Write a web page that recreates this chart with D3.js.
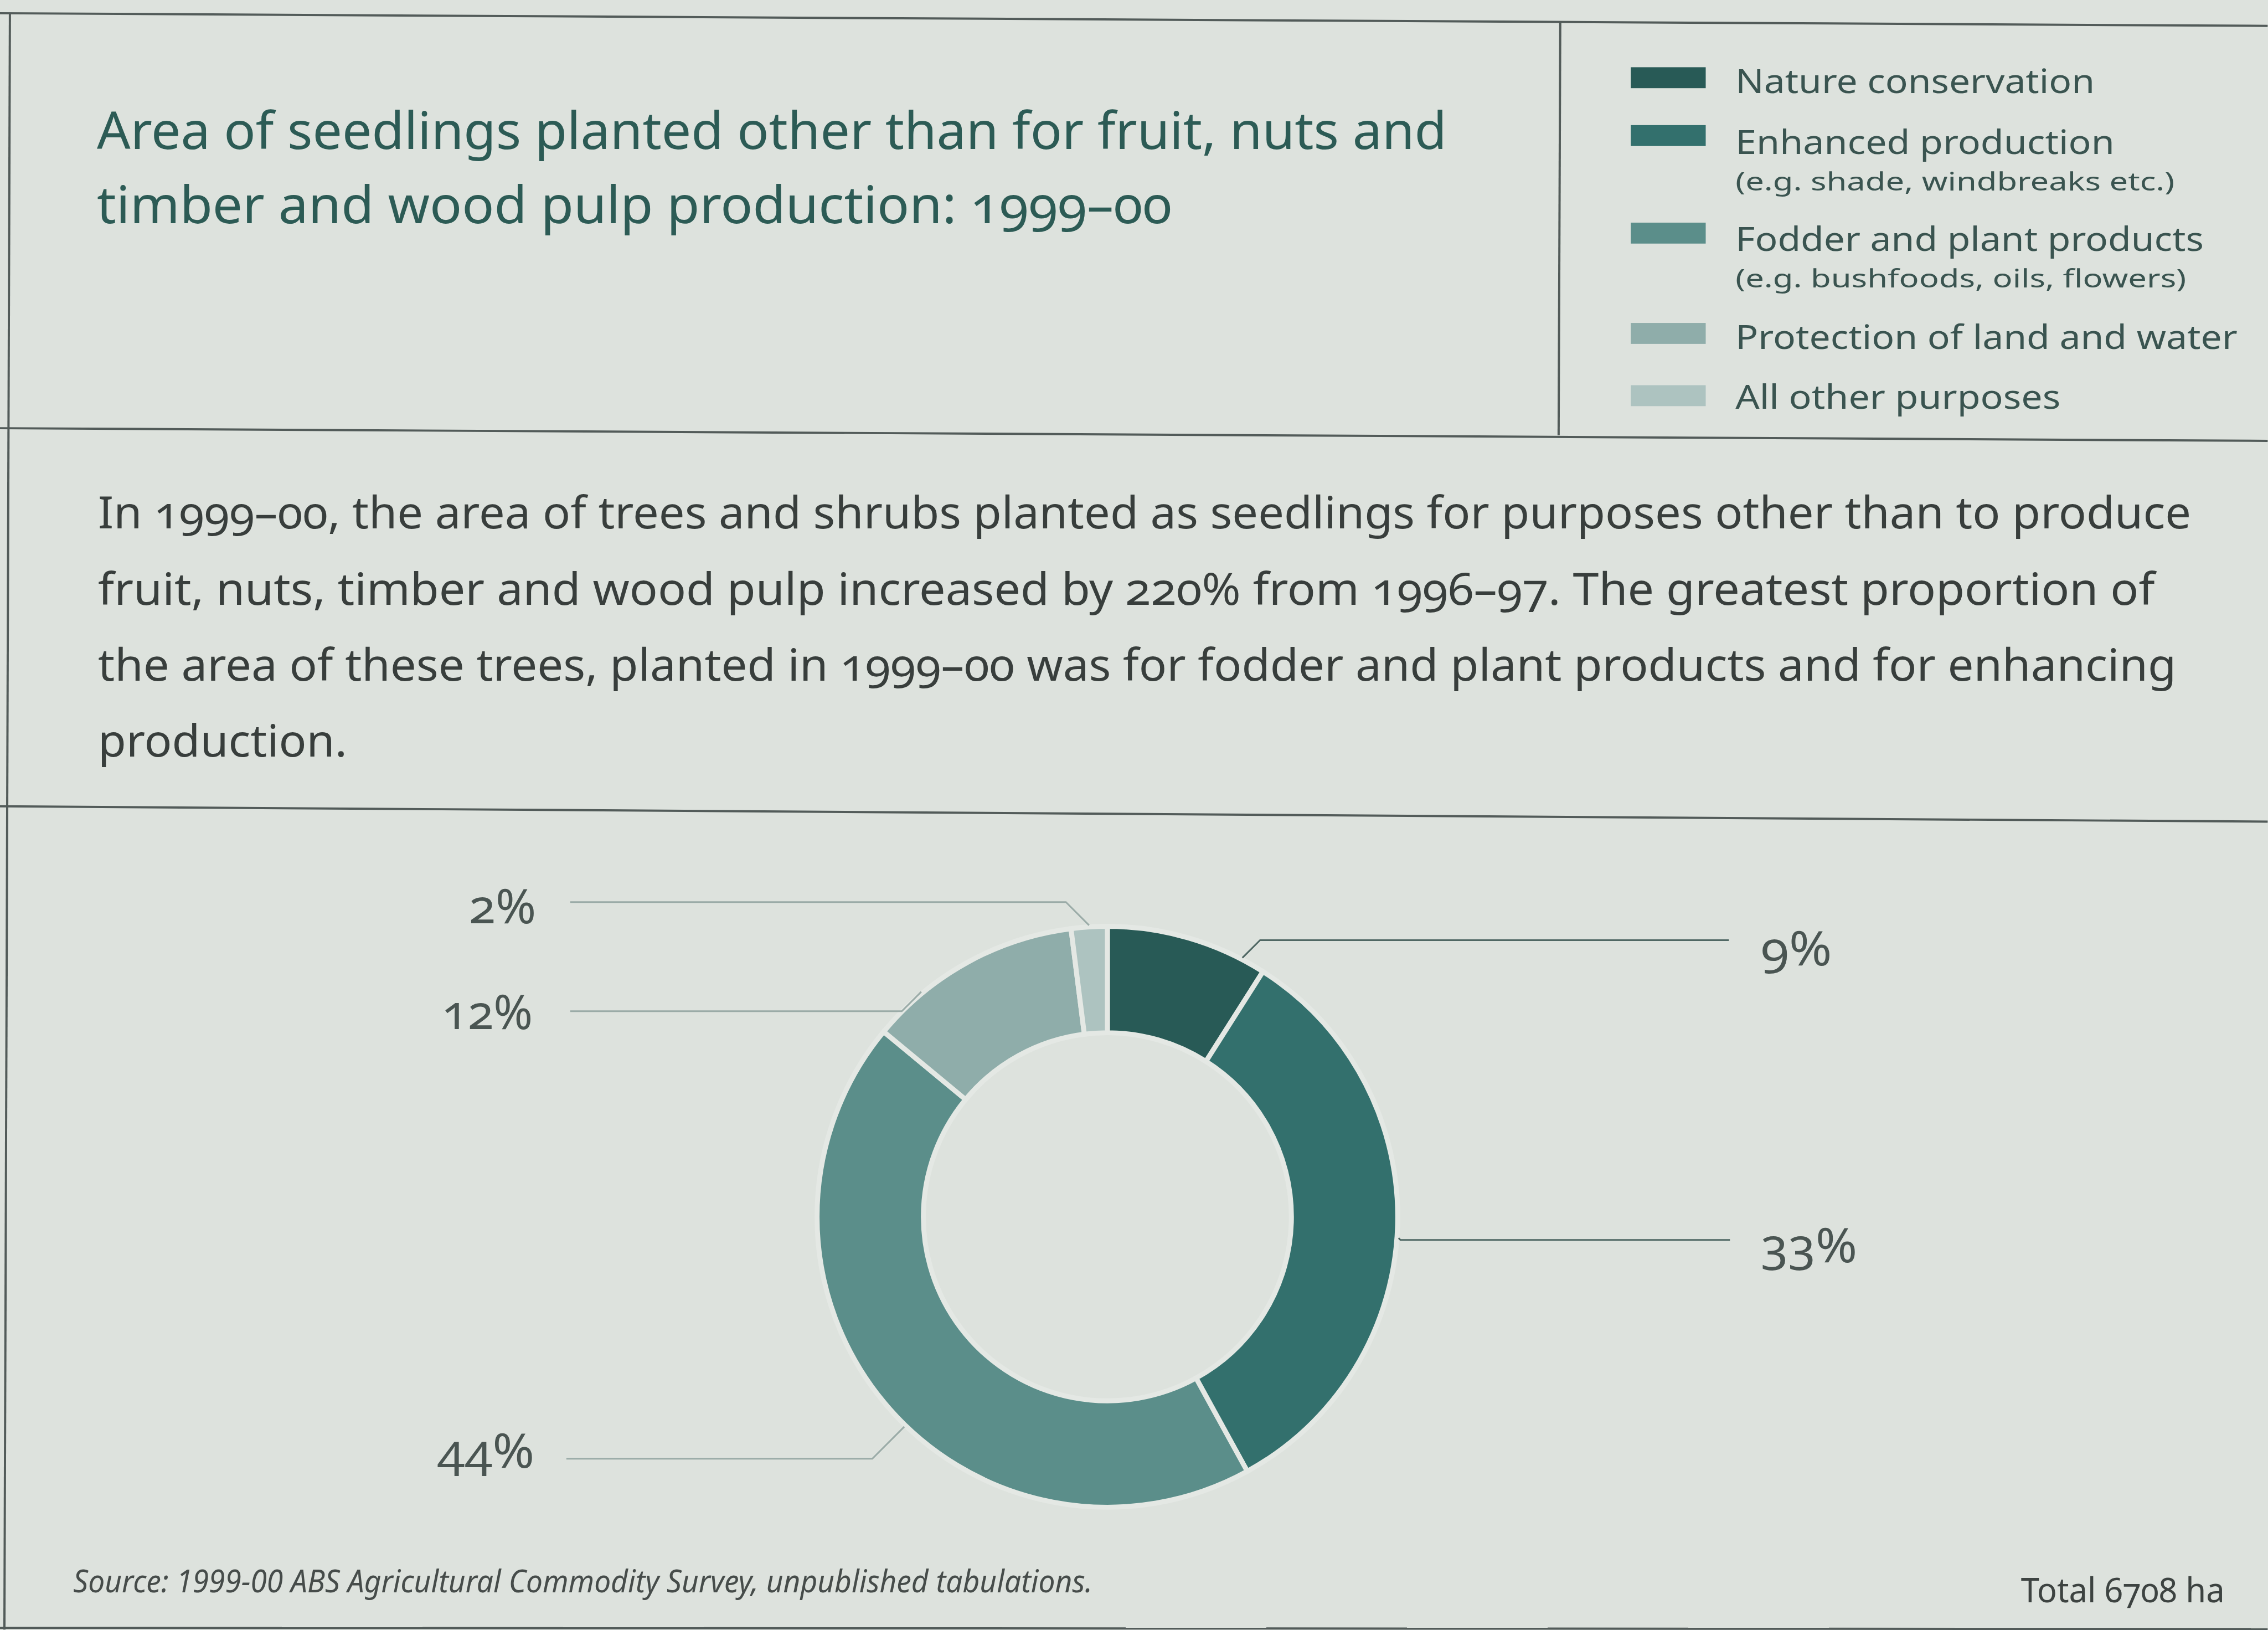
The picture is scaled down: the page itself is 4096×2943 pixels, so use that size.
<!DOCTYPE html>
<html>
<head>
<meta charset="utf-8">
<script src="https://cdn.jsdelivr.net/npm/d3@7"></script>
<style>
  html, body { margin: 0; padding: 0; background: #dde2dd; overflow: hidden; }
  svg { display: block; }
  text { font-family: "Noto Sans", "Open Sans", sans-serif; font-variant-numeric: oldstyle-nums; }
</style>
</head>
<body>
<script>
// ---- data ----
const categories = [
  "Nature conservation",
  "Enhanced production",
  "Fodder and plant products",
  "Protection of land and water",
  "All other purposes"
];
const categoryNotes = [
  "",
  "(e.g. shade, windbreaks etc.)",
  "(e.g. bushfoods, oils, flowers)",
  "",
  ""
];
const shares = [9, 33, 44, 12, 2];
const totalHectares = 6708;
const titleLines = [
  "Area of seedlings planted other than for fruit, nuts and",
  "timber and wood pulp production: 1999\u201300"
];
const bodyLines = [
  "In 1999\u201300, the area of trees and shrubs planted as seedlings for purposes other than to produce",
  "fruit, nuts, timber and wood pulp increased by 220% from 1996\u201397. The greatest  proportion of",
  "the area of these trees, planted in 1999\u201300 was for fodder and plant products and for enhancing",
  "production."
];
const sourceNote = "Source: 1999-00 ABS Agricultural Commodity Survey, unpublished tabulations.";

// ---- styling ----
const palette = ["#285a56", "#33706d", "#5b8e8a", "#8fadaa", "#adc3c0"];
const color = d3.scaleOrdinal().domain(categories).range(palette);

const W = 4116, H = 2957, S = 0.995;

const svg = d3.select("body").append("svg")
  .attr("width", 4096).attr("height", 2943);
const root = svg.append("g").attr("transform", `scale(${S})`);

root.append("rect").attr("width", W).attr("height", H).attr("fill", "#dde2dd");

// panel rules
const rules = [
  [0, 24, 4116, 47],
  [0, 777, 4116, 800],
  [0, 1463, 4116, 1491],
  [0, 2954, 4116, 2956],
  [18, 24, 8, 2957],
  [2832, 40, 2829, 790]
];
root.append("g").selectAll("line").data(rules).join("line")
  .attr("x1", d => d[0]).attr("y1", d => d[1])
  .attr("x2", d => d[2]).attr("y2", d => d[3])
  .attr("stroke", "#525b59").attr("stroke-width", 4);

// helper: one line of text fitted to a given width
function textLine(g, str, x, y, size, width, fill, anchor = "start", extra = {}) {
  const t = g.append("text")
    .attr("x", x).attr("y", y)
    .attr("font-size", size)
    .attr("fill", fill)
    .attr("text-anchor", anchor)
    .attr("textLength", width)
    .attr("lengthAdjust", "spacingAndGlyphs")
    .text(str);
  Object.entries(extra).forEach(([k, v]) => t.attr(k, v));
  return t;
}

// title
const titleG = root.append("g");
const titleWidths = [2450, 1951];
titleLines.forEach((s, i) => textLine(titleG, s, 176, 270 + i * 135, 94, titleWidths[i], "#2c5b55"));

// body paragraph
const bodyG = root.append("g");
const bodyWidths = [3799, 3733, 3772, 452];
bodyLines.forEach((s, i) => textLine(bodyG, s, 178, 959 + i * 138, 80, bodyWidths[i], "#383e3c"));

// legend
const legendG = root.append("g");
const swatchTops = [122, 227, 404, 586, 699];
const labelBase = [169, 279, 455, 633, 742];
const labelWidths = [652, 688, 850, 911, 590];
const noteWidths = [0, 797, 818, 0, 0];
categories.forEach((c, i) => {
  legendG.append("rect")
    .attr("x", 2960).attr("y", swatchTops[i])
    .attr("width", 136).attr("height", 38)
    .attr("fill", color(c));
  textLine(legendG, c, 3150, labelBase[i], 61, labelWidths[i], "#3a5450");
  if (categoryNotes[i]) {
    textLine(legendG, categoryNotes[i], 3150, labelBase[i] + 67, 45, noteWidths[i], "#3a5450");
  }
});

// donut
const cx = 2010, cy = 2208, rOuter = 527, rInner = 334;
const pie = d3.pie().sort(null).value(d => d)
  .startAngle(0).endAngle(2 * Math.PI);
const arcs = pie(shares);
const arc = d3.arc().innerRadius(rInner).outerRadius(rOuter);

const donut = root.append("g").attr("transform", `translate(${cx},${cy})`);
donut.selectAll("path").data(arcs).join("path")
  .attr("d", arc)
  .attr("fill", (d, i) => color(categories[i]))
  .attr("stroke", "#e4e8e4")
  .attr("stroke-width", 9)
  .attr("stroke-linejoin", "miter");

// leader lines and percentage labels
const leaders = [
  { t: 0.85, lineY: 1706, endX: 3138, textX: 3196, textY: 1752, w: 129, side: 1 },
  { t: 0.52, lineY: 2250, endX: 3140, textX: 3196, textY: 2290, w: 175, side: 1 },
  { t: 0.46, lineY: 2647, endX: 1028, textX: 970, textY: 2663, w: 176, side: -1 },
  { t: 0.25, lineY: 1835, endX: 1035, textX: 967, textY: 1867, w: 165, side: -1 },
  { t: 0.50, lineY: 1637, endX: 1035, textX: 973, textY: 1675, w: 122, side: -1 }
];
const fmtPct = v => `${v}%`;
const leaderG = root.append("g");
arcs.forEach((a, i) => {
  const L = leaders[i];
  const ang = a.startAngle + (a.endAngle - a.startAngle) * L.t;
  const r = rOuter + 3;
  const px = cx + r * Math.sin(ang);
  const py = cy - r * Math.cos(ang);
  const ex = px + L.side * Math.abs(L.lineY - py);
  const pts = [[px, py], [ex, L.lineY], [L.endX, L.lineY]];
  leaderG.append("path")
    .attr("d", d3.line()(pts))
    .attr("fill", "none")
    .attr("stroke", L.side > 0 ? "#4f6763" : "#9aaba7")
    .attr("stroke-width", 3);
  textLine(leaderG, fmtPct(a.data), L.textX, L.textY, 86, L.w, "#4a5552", L.side > 0 ? "start" : "end");
});

// footer
textLine(root, sourceNote, 133, 2889, 56, 1850, "#464c4a", "start", { "font-style": "italic" })
  .style("font-variant-numeric", "lining-nums");
textLine(root, `Total ${totalHectares} ha`, 3668, 2908, 63, 370, "#3d4341");
</script>
</body>
</html>
